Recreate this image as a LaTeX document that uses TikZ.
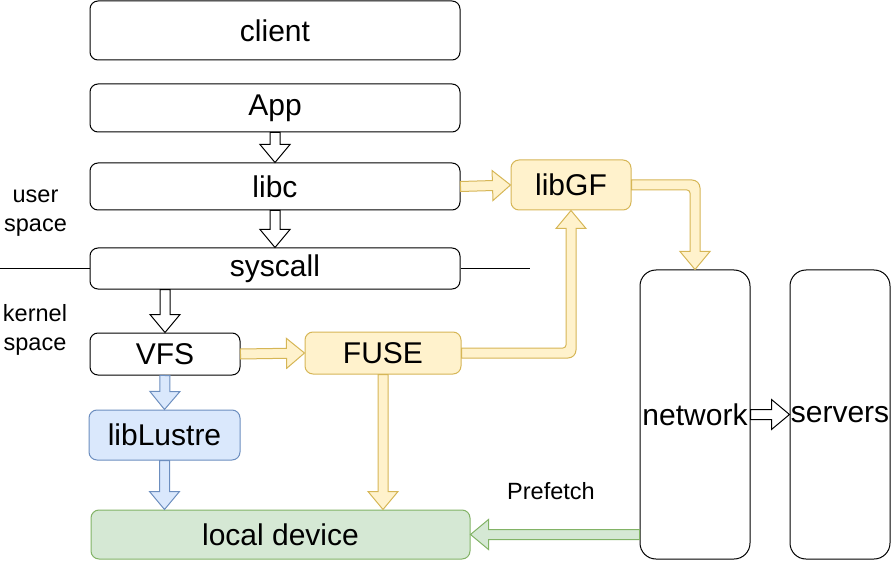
\documentclass[tikz,border=0pt]{standalone}
\usepackage{fontspec}
\setmainfont{Liberation Sans}
\usepackage{xcolor}
\usetikzlibrary{calc}

\definecolor{yfill}{HTML}{FFF2CC}
\definecolor{ydraw}{HTML}{D6B656}
\definecolor{bfill}{HTML}{DAE8FC}
\definecolor{bdraw}{HTML}{6C8EBF}
\definecolor{gfill}{HTML}{D5E8D4}
\definecolor{gdraw}{HTML}{82B366}

\tikzset{
  box/.style={draw, line width=1pt, rounded corners=8pt, inner sep=0pt},
  flex/.style={line width=1pt, line join=miter, to path={
    ($(\tikztotarget)!18pt!(\tikztostart)$) coordinate (hb)
    ($(\tikztostart)!5pt!90:(\tikztotarget)$) -- ($(hb)!5pt!90:(\tikztotarget)$)
    -- ($(hb)!15pt!90:(\tikztotarget)$) -- (\tikztotarget)
    -- ($(hb)!15pt!-90:(\tikztotarget)$) -- ($(hb)!5pt!-90:(\tikztotarget)$)
    -- ($(\tikztostart)!5pt!-90:(\tikztotarget)$) -- cycle}}
}

\begin{document}
\begin{tikzpicture}[x=1pt, y=-1pt, font=\fontsize{30}{36}\selectfont]
\useasboundingbox (0,0) rectangle (891,561);

\node[box, minimum width=370pt, minimum height=59pt] (client) at (275, 30.5) {client};
\node[box, minimum width=370pt, minimum height=48pt] (App) at (275, 108) {App};
\node[box, minimum width=370pt, minimum height=47pt] (libc) at (275, 186.5) {libc};
\node[box, minimum width=370pt, minimum height=41pt] (syscall) at (275, 268.5) {syscall};
\node[box, minimum width=150pt, minimum height=42pt] (VFS) at (165, 354) {VFS};
\node[box, draw=ydraw, fill=yfill, minimum width=156pt, minimum height=42pt] (FUSE) at (383, 353) {FUSE};
\node[box, draw=ydraw, fill=yfill, minimum width=120pt, minimum height=50pt] (libGF) at (571, 185) {libGF};
\node[box, draw=bdraw, fill=bfill, minimum width=151pt, minimum height=50pt] (libLustre) at (164.5, 435) {libLustre};
\node[box, draw=gdraw, fill=gfill, minimum width=379pt, minimum height=49pt] (local) at (280.5, 534.5) {local device};
\node[box, rounded corners=16pt, minimum width=110pt, minimum height=289pt] (network) at (695, 414.5) {network};
\node[box, rounded corners=16pt, minimum width=100pt, minimum height=289pt] (servers) at (840, 414.5) {servers};

\node[align=center, font=\fontsize{23.5}{29}\selectfont] (user) at (35.5, 213) {user\\space};
\node[align=center, font=\fontsize{23.5}{29}\selectfont] (kernel) at (35, 329.5) {kernel\\space};
\node[font=\fontsize{23.5}{29}\selectfont] (prefetch) at (551, 491) {Prefetch};

\coordinate (lineL) at (0, 268.5);
\coordinate (lineR) at (530, 268.5);
\draw[line width=1pt] (lineL) -- (syscall.west);
\draw[line width=1pt] (syscall.east) -- (lineR);

\draw[flex, draw=black, fill=white] (App.south) to (libc.north);
\draw[flex, draw=black, fill=white] (libc.south) to (syscall.north);
\draw[flex, draw=black, fill=white] (syscall.south -| VFS.north) to (VFS.north);
\draw[flex, draw=black, fill=white] (network.east) to (servers.west);
\draw[flex, draw=bdraw, fill=bfill] (VFS.south) to (libLustre.north);
\draw[flex, draw=bdraw, fill=bfill] (libLustre.south) to (libLustre.south |- local.north);
\draw[flex, draw=ydraw, fill=yfill] (VFS.east) to (FUSE.west);
\draw[flex, draw=ydraw, fill=yfill] (FUSE.south) to (FUSE.south |- local.north);
\draw[flex, draw=ydraw, fill=yfill] (libc.east) to (libGF.west);
\draw[flex, draw=gdraw, fill=gfill] (network.west |- local.east) to (local.east);

\coordinate (fg) at (libGF.south |- FUSE.east);
\draw[line width=1pt, draw=ydraw, fill=yfill] ([yshift=-5pt]FUSE.east)
  [rounded corners=8pt] -- ([xshift=5pt, yshift=-5pt]fg) [sharp corners]
  -- ([xshift=5pt, yshift=-18pt]libGF.south) -- ([xshift=15pt, yshift=-18pt]libGF.south)
  -- (libGF.south) -- ([xshift=-15pt, yshift=-18pt]libGF.south)
  -- ([xshift=-5pt, yshift=-18pt]libGF.south)
  [rounded corners=3pt] -- ([xshift=-5pt, yshift=5pt]fg) [sharp corners]
  -- ([yshift=5pt]FUSE.east) -- cycle;

\coordinate (gn) at (network.north |- libGF.east);
\draw[line width=1pt, draw=ydraw, fill=yfill] ([yshift=5pt]libGF.east)
  [rounded corners=8pt] -- ([xshift=5pt, yshift=5pt]gn) [sharp corners]
  -- ([xshift=5pt, yshift=18pt]network.north) -- ([xshift=15pt, yshift=18pt]network.north)
  -- (network.north) -- ([xshift=-15pt, yshift=18pt]network.north)
  -- ([xshift=-5pt, yshift=18pt]network.north)
  [rounded corners=3pt] -- ([xshift=-5pt, yshift=-5pt]gn) [sharp corners]
  -- ([yshift=-5pt]libGF.east) -- cycle;
\end{tikzpicture}
\end{document}
